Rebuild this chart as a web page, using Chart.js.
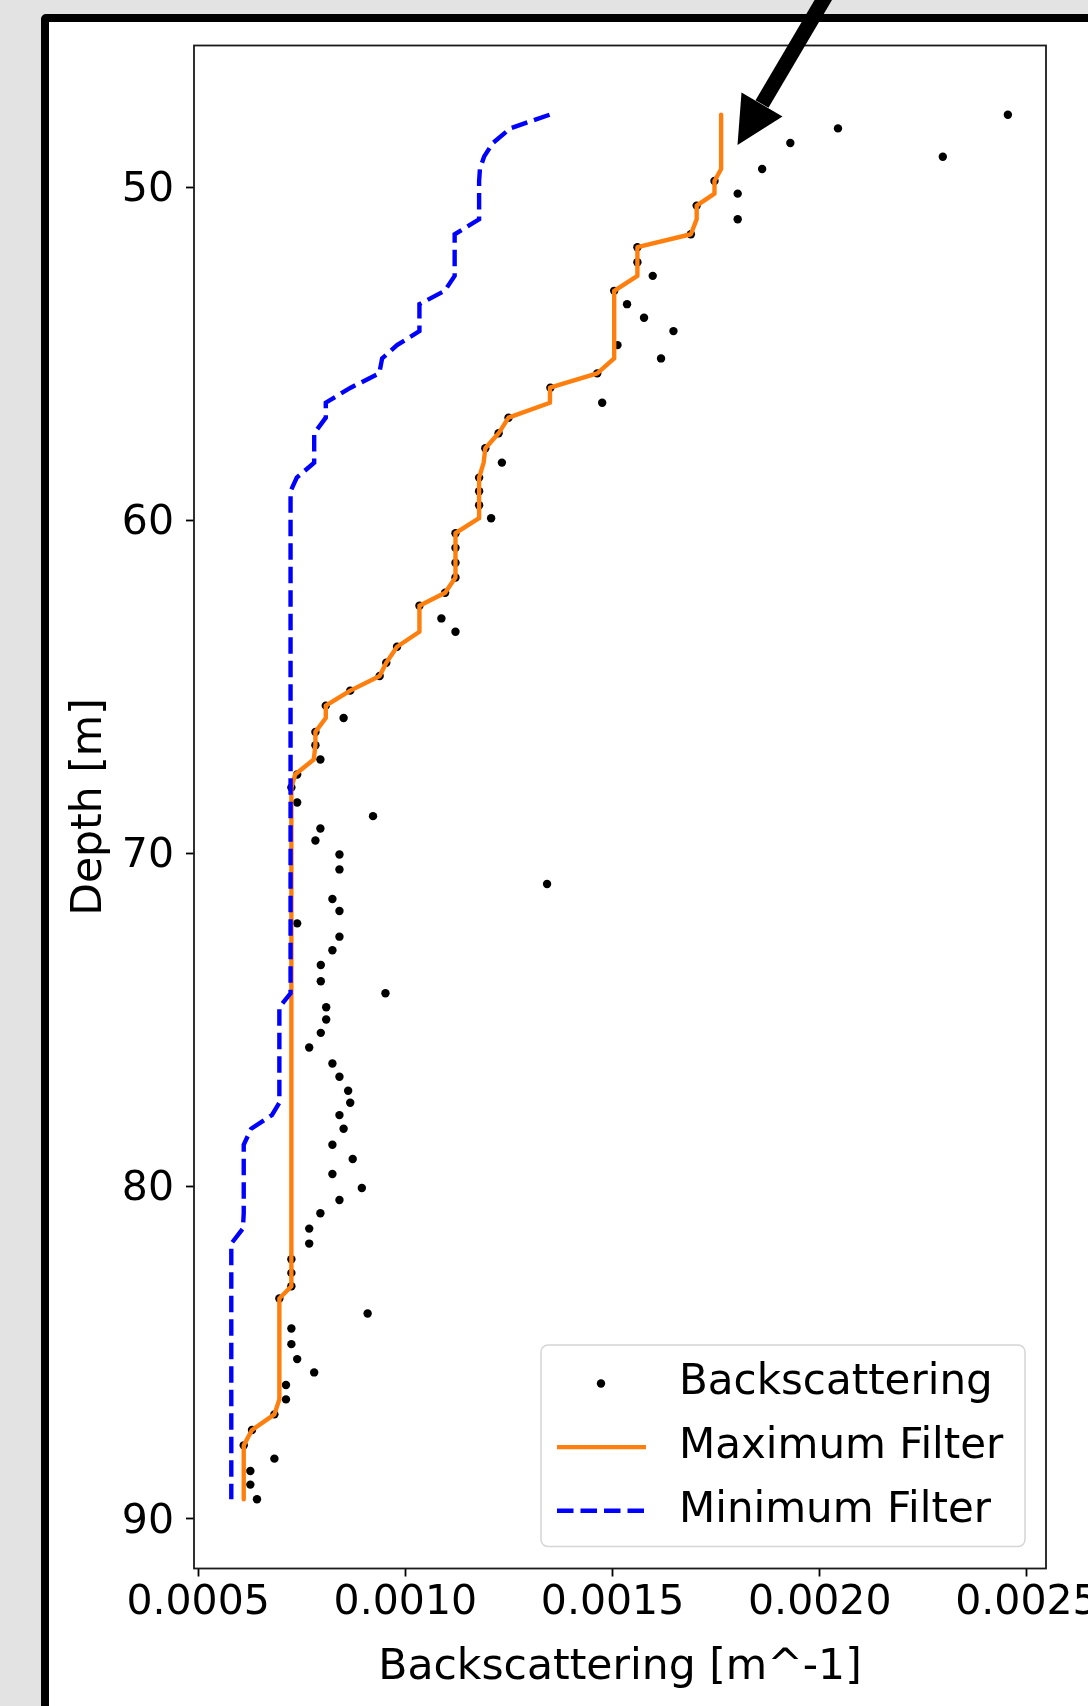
<!DOCTYPE html>
<html>
<head>
<meta charset="utf-8">
<title>Backscattering profile</title>
<script src="https://cdn.jsdelivr.net/npm/chart.js@4.4.1/dist/chart.umd.min.js"></script>
<style>
  html, body { margin: 0; padding: 0; width: 1088px; height: 1706px; overflow: hidden; background: #e3e3e3; }
  #frame { position: absolute; left: 41px; top: 14px; width: 1120px; height: 1800px; box-sizing: border-box;
           border: 8px solid #000; border-radius: 5px; background: #fff; }
  #wrap { position: absolute; left: 0; top: 0; width: 1200px; height: 1706px; }
  #arrow { position: absolute; left: 0; top: 0; }
</style>
</head>
<body>
<div id="frame"></div>
<div id="wrap"><canvas id="profile" width="1200" height="1706" style="width:1200px;height:1706px"></canvas></div>
<svg id="arrow" width="1088" height="160">
  <line x1="828" y1="-8" x2="762" y2="104" stroke="#000" stroke-width="15"/>
  <polygon points="741.5,92.5 782.5,116.5 737.5,145" fill="#000"/>
</svg>
<script>
// depth of each sample [m]
const depth = [
  47.82, 48.23, 48.67, 49.08, 49.45, 49.81, 50.19, 50.55, 50.96, 51.41,
  51.80, 52.25, 52.66, 53.11, 53.51, 53.92, 54.32, 54.74, 55.14, 55.59,
  56.02, 56.47, 56.92, 57.39, 57.84, 58.27, 58.72, 59.13, 59.55, 59.94,
  60.39, 60.83, 61.28, 61.72, 62.18, 62.57, 62.95, 63.35, 63.80, 64.28,
  64.68, 65.12, 65.57, 65.94, 66.36, 66.76, 67.19, 67.64, 68.03, 68.48,
  68.89, 69.26, 69.62, 70.04, 70.49, 70.93, 71.38, 71.74, 72.11, 72.51,
  72.92, 73.36, 73.85, 74.21, 74.63, 75.00, 75.40, 75.84, 76.32, 76.72,
  77.14, 77.50, 77.87, 78.28, 78.76, 79.19, 79.64, 80.06, 80.42, 80.82,
  81.28, 81.73, 82.20, 82.61, 83.01, 83.38, 83.83, 84.28, 84.75, 85.20,
  85.60, 85.98, 86.41, 86.86, 87.33, 87.79, 88.19, 88.56, 88.97, 89.41
];

// raw backscattering [m^-1]
const backscatter = [
  0.002454, 0.002044, 0.001929, 0.002297, 0.001861, 0.001746, 0.001802, 0.001703, 0.001802, 0.001689,
  0.001560, 0.001560, 0.001597, 0.001504, 0.001535, 0.001576, 0.001647, 0.001512, 0.001617, 0.001463,
  0.001350, 0.001475, 0.001249, 0.001225, 0.001193, 0.001233, 0.001178, 0.001178, 0.001178, 0.001207,
  0.001121, 0.001121, 0.001121, 0.001121, 0.001096, 0.001034, 0.001087, 0.001121, 0.000980, 0.000954,
  0.000938, 0.000867, 0.000808, 0.000851, 0.000783, 0.000783, 0.000795, 0.000739, 0.000725, 0.000739,
  0.000922, 0.000795, 0.000783, 0.000841, 0.000841, 0.001342, 0.000824, 0.000841, 0.000739, 0.000841,
  0.000824, 0.000796, 0.000796, 0.000952, 0.000809, 0.000809, 0.000796, 0.000768, 0.000824, 0.000841,
  0.000862, 0.000867, 0.000841, 0.000851, 0.000824, 0.000873, 0.000824, 0.000895, 0.000841, 0.000795,
  0.000768, 0.000768, 0.000725, 0.000725, 0.000725, 0.000696, 0.000909, 0.000725, 0.000725, 0.000739,
  0.000780, 0.000712, 0.000712, 0.000684, 0.000630, 0.000610, 0.000684, 0.000626, 0.000626, 0.000642
];

const maxFilter = [
  0.001762, 0.001762, 0.001762, 0.001762, 0.001762, 0.001746, 0.001746, 0.001703, 0.001703, 0.001689,
  0.001560, 0.001560, 0.001560, 0.001504, 0.001504, 0.001504, 0.001504, 0.001504, 0.001504, 0.001463,
  0.001349, 0.001349, 0.001249, 0.001225, 0.001193, 0.001189, 0.001178, 0.001178, 0.001178, 0.001178,
  0.001121, 0.001121, 0.001121, 0.001121, 0.001096, 0.001034, 0.001034, 0.001034, 0.000980, 0.000954,
  0.000938, 0.000867, 0.000808, 0.000808, 0.000783, 0.000783, 0.000779, 0.000734, 0.000725, 0.000725,
  0.000725, 0.000725, 0.000725, 0.000725, 0.000725, 0.000725, 0.000725, 0.000725, 0.000725, 0.000725,
  0.000725, 0.000725, 0.000725, 0.000725, 0.000725, 0.000725, 0.000725, 0.000725, 0.000725, 0.000725,
  0.000725, 0.000725, 0.000725, 0.000725, 0.000725, 0.000725, 0.000725, 0.000725, 0.000725, 0.000725,
  0.000725, 0.000725, 0.000725, 0.000725, 0.000725, 0.000696, 0.000696, 0.000696, 0.000696, 0.000696,
  0.000696, 0.000696, 0.000696, 0.000684, 0.000630, 0.000610, 0.000610, 0.000610, 0.000610, 0.000610
];

const minFilter = [
  0.001348, 0.001253, 0.001211, 0.001190, 0.001180, 0.001178, 0.001178, 0.001178, 0.001178, 0.001119,
  0.001119, 0.001119, 0.001119, 0.001095, 0.001034, 0.001034, 0.001034, 0.000980, 0.000944, 0.000937,
  0.000868, 0.000808, 0.000808, 0.000780, 0.000780, 0.000780, 0.000738, 0.000723, 0.000723, 0.000723,
  0.000723, 0.000723, 0.000723, 0.000723, 0.000723, 0.000723, 0.000723, 0.000723, 0.000723, 0.000723,
  0.000723, 0.000723, 0.000723, 0.000723, 0.000723, 0.000723, 0.000723, 0.000723, 0.000723, 0.000723,
  0.000723, 0.000723, 0.000723, 0.000723, 0.000723, 0.000723, 0.000723, 0.000723, 0.000723, 0.000723,
  0.000723, 0.000723, 0.000723, 0.000723, 0.000696, 0.000696, 0.000696, 0.000696, 0.000696, 0.000696,
  0.000696, 0.000696, 0.000678, 0.000628, 0.000610, 0.000610, 0.000610, 0.000610, 0.000610, 0.000610,
  0.000608, 0.000580, 0.000580, 0.000580, 0.000580, 0.000580, 0.000580, 0.000580, 0.000580, 0.000580,
  0.000580, 0.000580, 0.000580, 0.000580, 0.000580, 0.000580, 0.000580, 0.000580, 0.000580, 0.000580
];

const xTicks = [0.0005, 0.0010, 0.0015, 0.0020, 0.0025];
const yTicks = [50, 60, 70, 80, 90];

const FONT = 'DejaVu Sans';
Chart.defaults.font.family = FONT;
Chart.defaults.color = '#000';

const pts = (xs) => depth.map((d, i) => ({ x: xs[i], y: d }));

// axes box (matplotlib spines) drawn on top of the lines
const spines = {
  id: 'spines',
  afterDatasetsDraw(chart) {
    const { ctx, chartArea: a } = chart;
    ctx.save();
    ctx.strokeStyle = '#1a1a1a';
    ctx.lineWidth = 1.8;
    ctx.strokeRect(a.left, a.top, a.right - a.left, a.bottom - a.top);
    ctx.restore();
  }
};

// legend box in the lower right corner of the axes
const legendBox = {
  id: 'legendBox',
  afterDraw(chart) {
    const { ctx, chartArea: a } = chart;
    const w = 484, h = 201.5;
    const x0 = a.right - 21 - w, y0 = a.bottom - 22 - h;
    ctx.save();
    ctx.beginPath();
    ctx.roundRect(x0, y0, w, h, 7);
    ctx.fillStyle = 'rgba(255,255,255,0.8)';
    ctx.fill();
    ctx.strokeStyle = '#d5d5d5';
    ctx.lineWidth = 1.5;
    ctx.stroke();

    const ds = chart.data.datasets;
    ds.forEach((d, i) => {
      const y = y0 + 38.5 + i * 63.6;
      if (!d.showLine) {
        ctx.beginPath();
        ctx.arc(x0 + 60, y, d.pointRadius, 0, Math.PI * 2);
        ctx.fillStyle = d.backgroundColor;
        ctx.fill();
      } else {
        ctx.beginPath();
        ctx.setLineDash(d.borderDash || []);
        ctx.strokeStyle = d.borderColor;
        ctx.lineWidth = d.borderWidth;
        ctx.moveTo(x0 + 16, y);
        ctx.lineTo(x0 + 105, y);
        ctx.stroke();
        ctx.setLineDash([]);
      }
      ctx.fillStyle = '#000';
      ctx.font = '42px "' + FONT + '"';
      ctx.textBaseline = 'middle';
      ctx.textAlign = 'left';
      ctx.fillText(d.label, x0 + 138, y);
    });
    ctx.restore();
  }
};

new Chart(document.getElementById('profile'), {
  type: 'scatter',
  data: {
    datasets: [
      {
        label: 'Backscattering',
        data: pts(backscatter),
        showLine: false,
        backgroundColor: '#000',
        borderColor: '#000',
        pointRadius: 4.2,
        pointBorderWidth: 0,
        order: 3
      },
      {
        label: 'Maximum Filter',
        data: pts(maxFilter),
        showLine: true,
        borderColor: '#ff7f0e',
        borderWidth: 4.4,
        borderJoinStyle: 'round',
        pointRadius: 0,
        order: 2
      },
      {
        label: 'Minimum Filter',
        data: pts(minFilter),
        showLine: true,
        borderColor: '#0000ff',
        borderWidth: 4.4,
        borderDash: [16.5, 7],
        pointRadius: 0,
        order: 1
      }
    ]
  },
  options: {
    responsive: false,
    animation: false,
    devicePixelRatio: 1,
    layout: { padding: { left: 0, top: 45.5, right: 154, bottom: 0 } },
    plugins: {
      legend: { display: false },
      tooltip: { enabled: false }
    },
    scales: {
      x: {
        type: 'linear',
        position: 'bottom',
        min: 0.00049,
        max: 0.002546,
        afterBuildTicks: (s) => { s.ticks = xTicks.map(v => ({ value: v })); },
        afterFit: (s) => { s.height = 137.5; },
        grid: { drawOnChartArea: false, drawTicks: true, tickLength: 8, tickWidth: 1.8, tickColor: '#000' },
        border: { display: false },
        ticks: {
          padding: 2,
          maxRotation: 0,
          autoSkip: false,
          font: { size: 41 },
          callback: (v) => Number(v).toFixed(4)
        },
        title: {
          display: true,
          text: 'Backscattering [m^-1]',
          font: { size: 42.5 },
          padding: { top: 0, bottom: 13 }
        }
      },
      y: {
        type: 'linear',
        reverse: true,
        min: 45.74,
        max: 91.49,
        afterBuildTicks: (s) => { s.ticks = yTicks.map(v => ({ value: v })); },
        afterFit: (s) => { s.width = 194; },
        grid: { drawOnChartArea: false, drawTicks: true, tickLength: 8, tickWidth: 1.8, tickColor: '#000' },
        border: { display: false },
        ticks: {
          padding: 12,
          labelOffset: 3,
          autoSkip: false,
          font: { size: 41 },
          callback: (v) => String(v)
        },
        title: {
          display: true,
          text: 'Depth [m]',
          font: { size: 42.5 },
          padding: { top: 64, bottom: 0 }
        }
      }
    }
  },
  plugins: [spines, legendBox]
});
</script>
</body>
</html>
